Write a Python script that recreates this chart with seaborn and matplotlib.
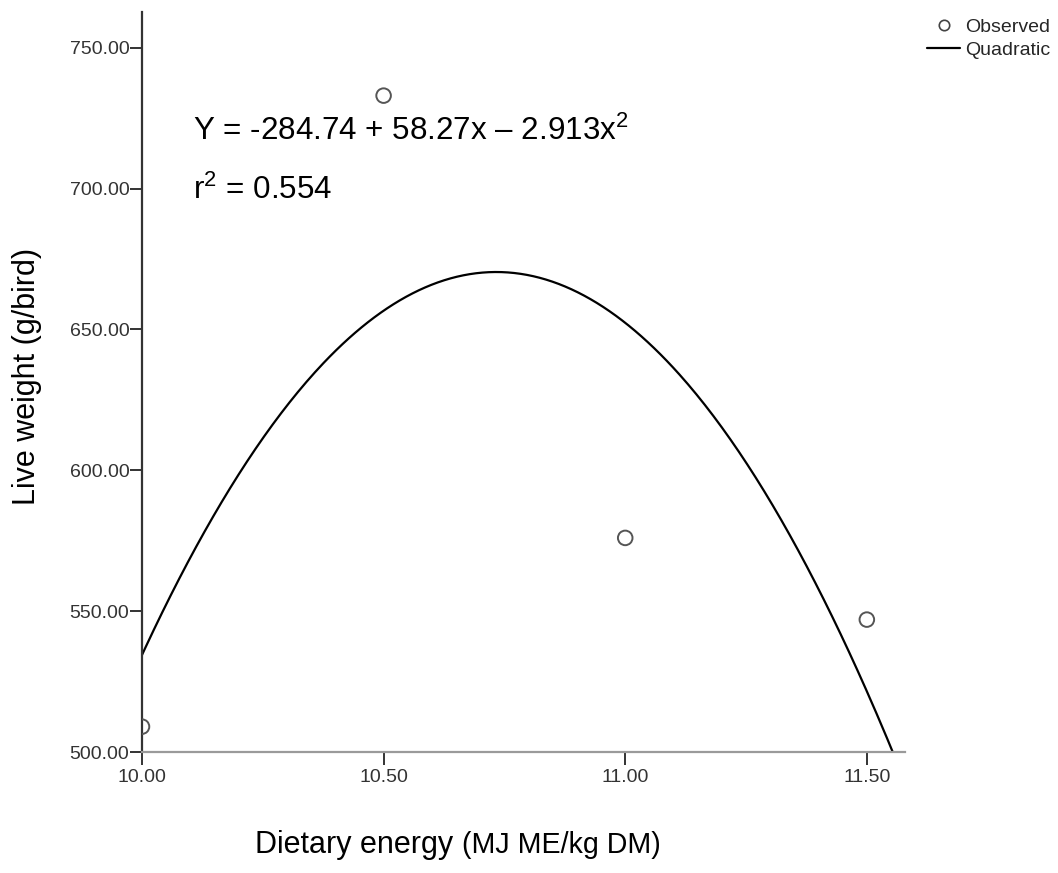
import numpy as np
import pandas as pd
import matplotlib
matplotlib.use("Agg")
import matplotlib.pyplot as plt
from matplotlib.lines import Line2D
import seaborn as sns

# ---- data ----
energy = [10.0, 10.5, 11.0, 11.5]
live_weight = [509.0, 733.0, 576.0, 547.0]
x_ticks = [10.0, 10.5, 11.0, 11.5]
y_ticks = [500, 550, 600, 650, 700, 750]
equation_text = "Y = -284.74 + 58.27x \u2013 2.913x$^{2}$"
r2_text = "r$^{2}$ = 0.554"

sns.set_theme(style="white")
plt.rcParams['font.family'] = ['Liberation Sans', 'DejaVu Sans']
plt.rcParams['mathtext.fontset'] = 'custom'
plt.rcParams['mathtext.rm'] = 'Liberation Sans'
plt.rcParams['mathtext.it'] = 'Liberation Sans:italic'
plt.rcParams['mathtext.default'] = 'regular'

df = pd.DataFrame({"energy": energy, "weight": live_weight})

# quadratic least-squares fit of observed data
coef = np.polyfit(df["energy"], df["weight"], 2)
xs = np.linspace(9.95, 11.7, 400)
fit = pd.DataFrame({"energy": xs, "weight": np.polyval(coef, xs)})

fig = plt.figure(figsize=(10.58, 8.73), dpi=100)
ax = fig.add_axes([0.1342, 0.1386, 0.8554 - 0.1342, 0.9863 - 0.1386])

sns.lineplot(data=fit, x="energy", y="weight", ax=ax, color="black", lw=1.6,
             sort=False, estimator=None)
sns.scatterplot(data=df, x="energy", y="weight", ax=ax, marker="o", s=110,
                facecolor="none", edgecolor="#555555", linewidth=1.4, zorder=3)

ax.set_xlim(10.0, 11.579)
ax.set_ylim(500.0, 762.7)
ax.set_xticks(x_ticks)
ax.set_yticks(y_ticks)
ax.set_xticklabels([f"{v:.2f}" for v in x_ticks])
ax.set_yticklabels([f"{v:.2f}" for v in y_ticks])

for s in ["top", "right"]:
    ax.spines[s].set_visible(False)
ax.spines["left"].set_color("#333333")
ax.spines["left"].set_linewidth(1.6)
ax.spines["bottom"].set_color("#9a9a9a")
ax.spines["bottom"].set_linewidth(1.6)

ax.tick_params(axis="y", direction="out", length=8.5, width=1.4, color="#333333",
               pad=0.5, labelsize=14, labelcolor="#333333", left=True)
ax.tick_params(axis="x", direction="out", length=9, width=1.4, color="#333333",
               pad=3, labelsize=14, labelcolor="#333333", bottom=True)

ax.set_xlabel("")
ax.set_ylabel("Live weight (g/bird)", fontsize=22, color="black")
ax.yaxis.set_label_coords(-0.131, 0.507)

ax.text(10.106, 717.3, equation_text, fontsize=22.6, va="baseline", ha="left", color="black")
ax.text(10.106, 696.3, r2_text, fontsize=22.6, va="baseline", ha="left", color="black")

# x-axis title (two fonts)
t1 = fig.text(255 / 1058, 1 - 853 / 873, "Dietary energy ", fontsize=22,
              va="baseline", ha="left", color="black")
fig.canvas.draw()
bb = t1.get_window_extent()
fig.text(bb.x1 / fig.bbox.width, 1 - 853 / 873, "(MJ ME/kg DM)", fontsize=20.6,
         va="baseline", ha="left", color="black")

handles = [
    Line2D([], [], marker="o", ls="none", markersize=7.5, markerfacecolor="none",
           markeredgecolor="#444444", markeredgewidth=1.2, label="Observed"),
    Line2D([], [], color="black", lw=1.6, label="Quadratic"),
]
fig.legend(handles=handles, loc="upper left", bbox_to_anchor=(927 / 1058, 1 - 18 / 873),
           frameon=False, fontsize=14, handlelength=1.7, handletextpad=0.25,
           labelspacing=0.3, borderpad=0, borderaxespad=0)

fig.savefig("out.png", dpi=100)
